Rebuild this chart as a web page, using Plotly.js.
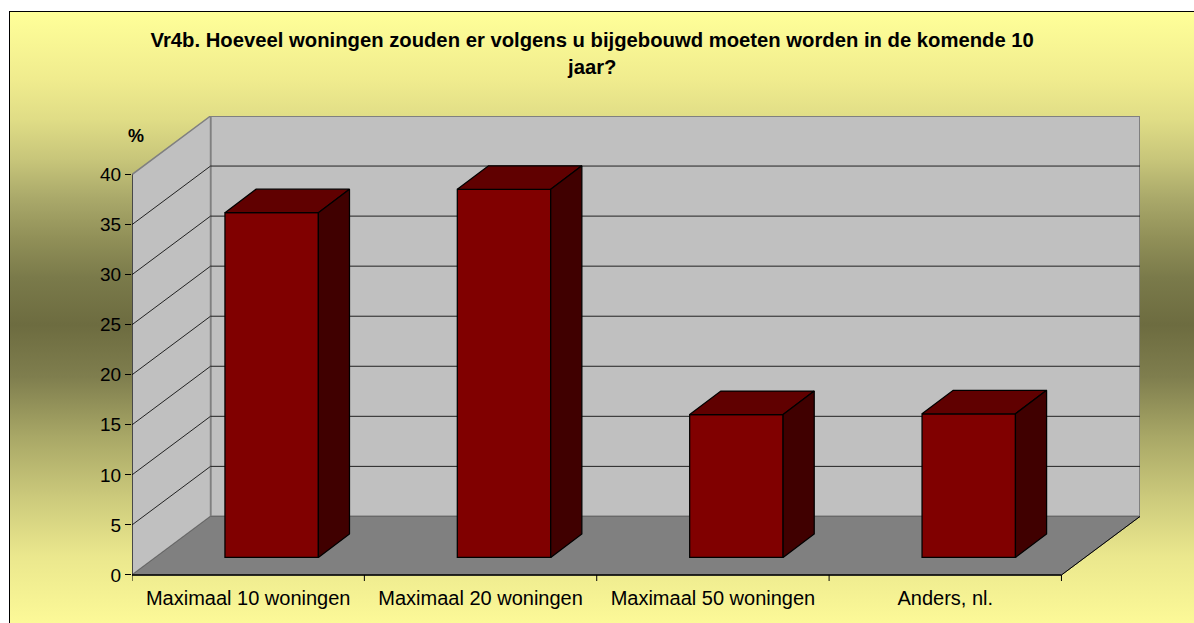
<!DOCTYPE html>
<html>
<head>
<meta charset="utf-8">
<script src="https://cdn.plot.ly/plotly-3.0.1.min.js"></script>
<style>
html,body{margin:0;padding:0;background:#fff;overflow:hidden;width:1194px;height:623px}
#bg{position:absolute;left:9px;top:11px;width:1200px;height:630px;box-sizing:border-box;border:1px solid #000;
background:linear-gradient(to bottom,#FFFF99 0px,#F0EC8E 67px,#E0DD86 107px,#C8C67A 147px,#AAA96A 186px,#919058 226px,#7A7A4A 266px,#6D6C40 313px,#7F7E4E 365px,#A8A766 424px,#CBC97B 484px,#EAE78D 543px,#FBF897 607px,#FFFF99 620px)}
#chart{position:absolute;left:0;top:0;width:1194px;height:623px}
</style>
</head>
<body>
<div id="bg"></div>
<div id="chart"></div>
<script>
const categories = ["Maximaal 10 woningen","Maximaal 20 woningen","Maximaal 50 woningen","Anders, nl."];
const values = [34.44, 36.78, 14.28, 14.35];
const yTicks = [0,5,10,15,20,25,30,35,40];
const titleText = "Vr4b. Hoeveel woningen zouden er volgens u bijgebouwd moeten worden in de komende 10<br>jaar?";

// oblique projection of the chart's depth, in axis units
const catPos = categories.map((_, i) => i);
const xMin = -0.5, xMax = 3.5, yTop = 40, yFloorTick = -0.6;
const wallDx = 0.338, wallDy = 5.85;
const barShiftX = 0.101, barBase = 1.75, barWidth = 0.402;
const barDx = 0.134, barDy = 2.35;

const poly = pts => "M" + pts.map(p => p.join(",")).join("L") + "Z";
const open = pts => "M" + pts.map(p => p.join(",")).join("L");
const shapes = [];
const addShape = (path, fill, color, width) => shapes.push({type:"path", xref:"x", yref:"y", layer:"below", path,
  fillcolor: fill || "rgba(0,0,0,0)", line:{color: color, width: width}});

// back wall, side wall, floor
addShape(poly([[xMin+wallDx,wallDy],[xMax+wallDx,wallDy],[xMax+wallDx,yTop+wallDy],[xMin+wallDx,yTop+wallDy]]), "#C0C0C0", "#808080", 2);
addShape(poly([[xMin,0],[xMin+wallDx,wallDy],[xMin+wallDx,yTop+wallDy],[xMin,yTop]]), "#C0C0C0", "#808080", 1.5);
addShape(poly([[xMin,0],[xMax,0],[xMax+wallDx,wallDy],[xMin+wallDx,wallDy]]), "#808080", "#666666", 1);
// gridlines
yTicks.filter(v => v > 0 && v < yTop).forEach(v => {
  addShape(open([[xMin,v],[xMin+wallDx,v+wallDy],[xMax+wallDx,v+wallDy]]), null, "#222222", 1);
});
// floor and axis edges
addShape(open([[xMin,0],[xMax,0]]), null, "#000000", 1.5);
addShape(open([[xMax,0],[xMax+wallDx,wallDy]]), null, "#000000", 1);
addShape(open([[xMin,yTop],[xMin,0]]), null, "#000000", 1);

const traces = [];
traces.push({type:"bar", x:catPos.map(c => c + barShiftX), y:values, base:values.map(() => barBase), width:barWidth,
  marker:{color:"#800000", line:{color:"#000000", width:1.25}}, hoverinfo:"skip", showlegend:false});

values.forEach((v, i) => {
  const l = catPos[i] + barShiftX - barWidth/2, r = l + barWidth, b = barBase, t = barBase + v;
  traces.push({type:"scatter", mode:"lines", fill:"toself", fillcolor:"#600000", line:{color:"#000000", width:1.25},
    x:[l, r, r+barDx, l+barDx, l], y:[t, t, t+barDy, t+barDy, t], hoverinfo:"skip", showlegend:false});
  traces.push({type:"scatter", mode:"lines", fill:"toself", fillcolor:"#400000", line:{color:"#000000", width:1.25},
    x:[r, r+barDx, r+barDx, r, r], y:[b, b+barDy, t+barDy, t, b], hoverinfo:"skip", showlegend:false});
});

// category boundary ticks under the floor edge
const tickEdges = [-0.5,0.5,1.5,2.5,3.5];
tickEdges.forEach(e => {
  traces.push({type:"scatter", mode:"lines", x:[e,e], y:[0,yFloorTick], line:{color:"#000000", width:1},
    hoverinfo:"skip", showlegend:false});
});

const layout = {
  width:1194, height:623,
  margin:{l:131.7, r:54.1, t:115.6, b:41.5, pad:0},
  paper_bgcolor:"rgba(0,0,0,0)", plot_bgcolor:"rgba(0,0,0,0)",
  showlegend:false, bargap:0,
  font:{family:"Liberation Sans, Arial, sans-serif", color:"#000000", size:20},
  title:{text:titleText, font:{size:20.25, family:"Liberation Sans, Arial, sans-serif", weight:"bold", color:"#000000"},
    x:0.496, xref:"container", xanchor:"center", y:0.924, yref:"container", yanchor:"middle"},
  xaxis:{type:"linear", range:[xMin, xMax+wallDx], tickmode:"array", tickvals:catPos, ticktext:categories,
    ticks:"", showgrid:false, zeroline:false, showline:false, tickfont:{size:20}, ticklabelstandoff:3, automargin:false, fixedrange:true},
  yaxis:{type:"linear", range:[yFloorTick, yTop+wallDy], tickmode:"array", tickvals:yTicks, ticks:"outside", ticklen:6, tickwidth:1,
    tickcolor:"#000000", showgrid:false, zeroline:false, showline:false, tickfont:{size:19}, automargin:false, fixedrange:true},
  shapes,
  annotations:[{text:"<b>%</b>", xref:"paper", yref:"paper", x:0.0043, y:0.956, xanchor:"center", yanchor:"middle",
    showarrow:false, font:{size:18, color:"#000000"}}]
};
Plotly.newPlot("chart", traces, layout, {displayModeBar:false, staticPlot:true});
</script>
</body>
</html>
